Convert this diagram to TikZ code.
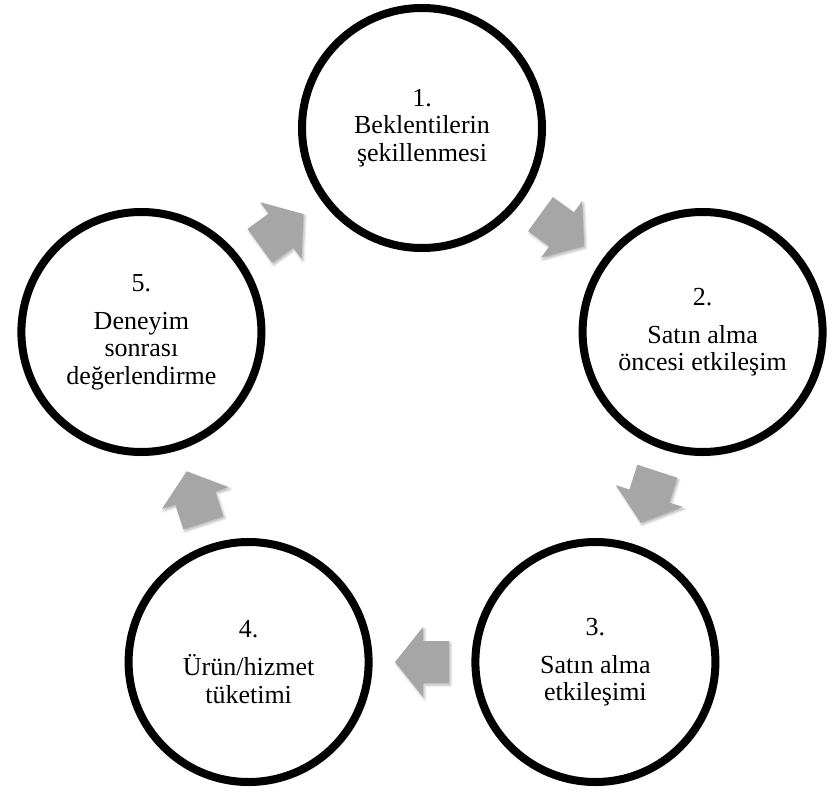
\documentclass[tikz,border=0pt]{standalone}
\usepackage{fontspec}
\setmainfont{Liberation Serif}
\usetikzlibrary{calc,shadows.blur}
\definecolor{arrowgray}{RGB}{166,166,166}
\begin{document}
\begin{tikzpicture}[x=1pt,y=-1pt,
  stage/.style={circle, draw=black, line width=8pt, fill=white,
    minimum size=240pt, inner sep=0pt, align=center,
    font=\fontsize{26}{27.5}\selectfont,
    blur shadow={shadow xshift=1.5pt, shadow yshift=-2pt, shadow blur radius=3pt, shadow opacity=30}},
  flowarrow/.style={fill=arrowgray,
    blur shadow={shadow xshift=1.5pt, shadow yshift=-2pt, shadow blur radius=2.5pt, shadow opacity=30}},
  cyclearrow/.pic={\fill[flowarrow] (-27,-21) -- (-1,-21) -- (-1,-35) -- (27,0) -- (-1,35) -- (-1,21) -- (-27,21) -- cycle;}]
\useasboundingbox (0,0) rectangle (834,799);
\node[stage] (s1) at (422,128) {1.\\Beklentilerin\\şekillenmesi};
\node[stage] (s2) at (702.6,332) {2.\\[10.5pt]Satın alma\\öncesi etkileşim};
\node[stage] (s3) at (595.4,662) {3.\\[10.5pt]Satın alma\\etkileşimi};
\node[stage] (s4) at (248.6,662) {4.\\[10.5pt]Ürün/hizmet\\tüketimi};
\node[stage] (s5) at (141.4,332) {5.\\[10.5pt]Deneyim\\sonrası\\değerlendirme};
\coordinate (a12) at ($(s1)!0.5!(s2)$);
\coordinate (a23) at ($(s2)!0.5!(s3)$);
\coordinate (a34) at ($(s3)!0.5!(s4)$);
\coordinate (a45) at ($(s4)!0.5!(s5)$);
\coordinate (a51) at ($(s5)!0.5!(s1)$);
\pic[rotate=-36] at (a12) {cyclearrow};
\pic[rotate=-108] at (a23) {cyclearrow};
\pic[rotate=180] at (a34) {cyclearrow};
\pic[rotate=108] at (a45) {cyclearrow};
\pic[rotate=36] at (a51) {cyclearrow};
\end{tikzpicture}
\end{document}
